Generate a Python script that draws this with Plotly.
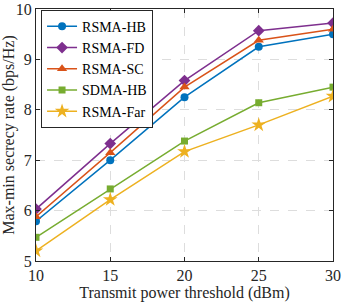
import plotly.graph_objects as go

power_dbm = [10, 15, 20, 25, 30]
rsma_hb = [5.79, 7.00, 8.25, 9.25, 9.50]
rsma_fd = [6.03, 7.33, 8.58, 9.57, 9.72]
rsma_sc = [5.88, 7.15, 8.45, 9.38, 9.60]
sdma_hb = [5.47, 6.43, 7.38, 8.14, 8.45]
rsma_far = [5.20, 6.22, 7.17, 7.70, 8.27]

series = [
    ("RSMA-HB", rsma_hb, "#0072BD", "circle", 8),
    ("RSMA-FD", rsma_fd, "#7E2F8E", "diamond", 9),
    ("RSMA-SC", rsma_sc, "#D95319", "triangle-up", 9),
    ("SDMA-HB", sdma_hb, "#77AC30", "square", 7),
    ("RSMA-Far", rsma_far, "#EDB120", "star", 11),
]

fig = go.Figure()
for name, vals, color, sym, size in series:
    fig.add_trace(go.Scatter(
        x=power_dbm, y=vals, name=name, mode="lines+markers",
        line=dict(color=color, width=1.5),
        marker=dict(symbol=sym, size=size, color=color, line=dict(width=0)),
    ))

FAM = "Liberation Serif"
tickfont = dict(family=FAM, size=16, color="#262626")
titlefont = dict(family=FAM, size=16, color="#262626")
axis_common = dict(
    showline=True, linecolor="#262626", linewidth=1, mirror="ticks",
    ticks="inside", ticklen=4, tickcolor="#262626",
    showgrid=True, gridcolor="#DDDDDD", griddash="dash", gridwidth=1,
    zeroline=False, tickfont=tickfont, automargin=False,
)
fig.update_layout(
    width=343, height=304,
    margin=dict(l=36, r=10, t=9, b=43),
    paper_bgcolor="white", plot_bgcolor="white",
    font=dict(family=FAM, size=14, color="#262626"),
    xaxis=dict(range=[10, 30], tickvals=[10, 15, 20, 25, 30],
               title=dict(text="Transmit power threshold (dBm)", font=titlefont, standoff=0),
               **axis_common),
    yaxis=dict(range=[5, 10], tickvals=[5, 6, 7, 8, 9, 10],
               title=dict(text="Max-min secrecy rate (bps/Hz)", font=titlefont, standoff=4),
               **axis_common),
    legend=dict(x=0.017, y=0.997, xanchor="left", yanchor="top",
                bgcolor="white", bordercolor="#262626", borderwidth=1,
                font=dict(family=FAM, size=14, color="black"),
                tracegroupgap=0, itemwidth=30),
    showlegend=True,
)
fig.write_html("out.html", config={"displayModeBar": False},
               post_script="document.body.style.margin='0';document.body.style.overflow='hidden';")
